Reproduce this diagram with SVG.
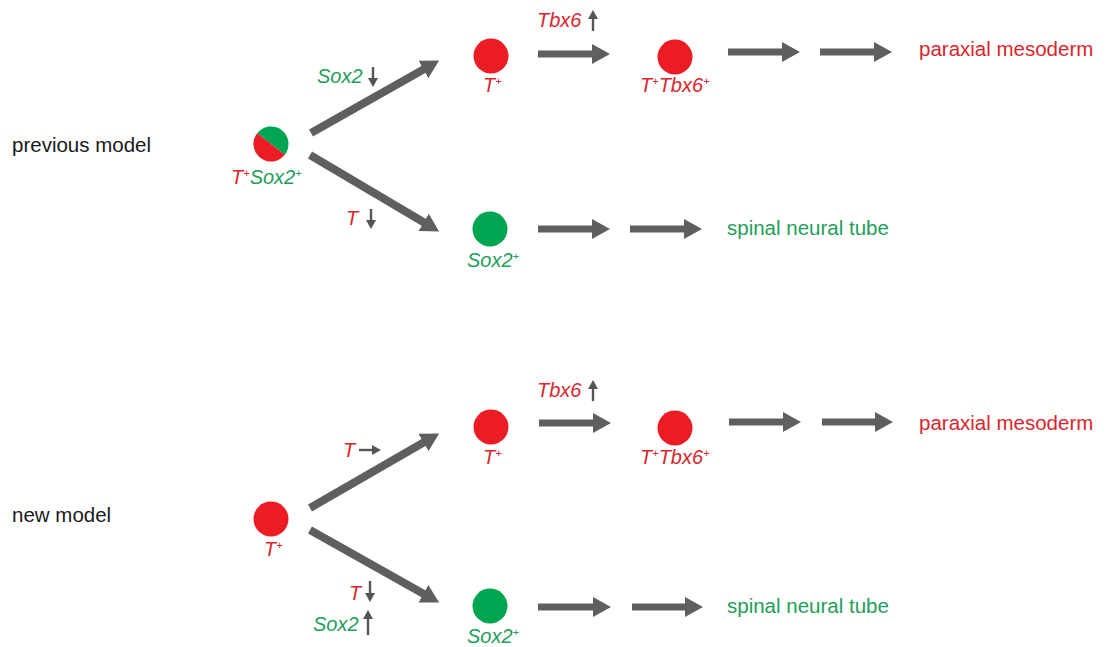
<svg xmlns="http://www.w3.org/2000/svg" width="1109" height="647" viewBox="0 0 1109 647">
<style>
text{font-family:"Liberation Sans",Arial,sans-serif;font-size:20.5px}
.lab{font-style:italic;font-size:20px}
.r{fill:#d9262c}.g{fill:#1f9e5a}.k{fill:#1a1a1a}
.sup{font-size:11px}
.big{stroke:#5f5f5f;stroke-width:7;fill:none;marker-end:url(#ah)}
.dg{stroke:#5f5f5f;stroke-width:8;fill:none;marker-end:url(#ah)}
.thin{stroke:#555;stroke-width:2.4;fill:none;marker-end:url(#th)}
.cr{fill:#ec1c24}.cg{fill:#00a551}
</style>
<defs>
<marker id="ah" markerUnits="userSpaceOnUse" viewBox="0 0 18 20" markerWidth="18" markerHeight="20" refX="1" refY="10" orient="auto"><path d="M0,0 L18,10 L0,20 Z" fill="#5f5f5f"/></marker>
<marker id="th" markerUnits="userSpaceOnUse" viewBox="0 0 9 10" markerWidth="9" markerHeight="10" refX="1" refY="5" orient="auto"><path d="M0,0 L9,5 L0,10 Z" fill="#555"/></marker>
</defs>
<rect width="1109" height="647" fill="#fff"/>

<g id="titles">
<text class="k" x="12" y="152">previous model</text>
<text class="k" x="12" y="522">new model</text>
</g>

<g id="connectors">
<line class="dg" x1="311" y1="133" x2="424.3" y2="68.9"/>
<line class="dg" x1="310" y1="155" x2="424.5" y2="222.8"/>
<line class="big" x1="538" y1="54" x2="593" y2="54"/>
<line class="big" x1="728" y1="52" x2="783" y2="52"/>
<line class="big" x1="820" y1="52" x2="875" y2="52"/>
<line class="big" x1="538" y1="229" x2="593" y2="229"/>
<line class="big" x1="630" y1="229" x2="685" y2="229"/>
<line class="dg" x1="310" y1="508" x2="424.4" y2="442"/>
<line class="dg" x1="310" y1="530" x2="424.3" y2="594.2"/>
<line class="big" x1="539" y1="423" x2="594" y2="423"/>
<line class="big" x1="729" y1="422" x2="784" y2="422"/>
<line class="big" x1="822" y1="422" x2="876" y2="422"/>
<line class="big" x1="538" y1="607" x2="594" y2="607"/>
<line class="big" x1="632" y1="607" x2="686" y2="607"/>
</g>

<g id="edge-labels">
<text class="lab g" x="317" y="83">Sox2</text>
<line class="thin" x1="373" y1="67" x2="373" y2="79"/>
<text class="lab r" x="346" y="225">T</text>
<line class="thin" x1="371" y1="209" x2="371" y2="221"/>
<text class="lab r" x="537" y="27">Tbx6</text>
<line class="thin" x1="593" y1="31" x2="593" y2="18"/>
<text class="lab r" x="343" y="457">T</text>
<line class="thin" x1="359" y1="450" x2="373" y2="450"/>
<text class="lab r" x="537" y="397">Tbx6</text>
<line class="thin" x1="593" y1="401" x2="593" y2="388"/>
<text class="lab r" x="349" y="600">T</text>
<line class="thin" x1="370" y1="581" x2="370" y2="594"/>
<text class="lab g" x="313" y="631">Sox2</text>
<line class="thin" x1="368" y1="635" x2="368" y2="618"/>
</g>

<g id="node-prev-progenitor">
<path class="cg" d="M257.2,133.2 A17.5,17.5 0 0 1 284.8,154.8 Z"/>
<path class="cr" d="M284.8,154.8 A17.5,17.5 0 0 1 257.2,133.2 Z"/>
<text class="lab" x="231" y="184"><tspan class="r">T</tspan><tspan class="r sup" dy="-7">+</tspan><tspan class="g" dy="7">Sox2</tspan><tspan class="g sup" dy="-7">+</tspan></text>
</g>

<g id="node-prev-T">
<circle class="cr" cx="491" cy="56" r="17.5"/>
<text class="lab r" x="483" y="92">T<tspan class="sup" dy="-7">+</tspan></text>
</g>

<g id="node-prev-TTbx6">
<circle class="cr" cx="675" cy="57" r="17.5"/>
<text class="lab r" x="640" y="92">T<tspan class="sup" dy="-7">+</tspan><tspan dy="7">Tbx6</tspan><tspan class="sup" dy="-7">+</tspan></text>
</g>

<g id="node-prev-paraxial">
<text class="r" x="919" y="56">paraxial mesoderm</text>
</g>

<g id="node-prev-Sox2">
<circle class="cg" cx="490" cy="229" r="17.5"/>
<text class="lab g" x="467" y="267">Sox2<tspan class="sup" dy="-7">+</tspan></text>
</g>

<g id="node-prev-spinal">
<text class="g" x="727" y="235">spinal neural tube</text>
</g>

<g id="node-new-progenitor">
<circle class="cr" cx="271" cy="519" r="17.5"/>
<text class="lab r" x="264" y="556">T<tspan class="sup" dy="-7">+</tspan></text>
</g>

<g id="node-new-T">
<circle class="cr" cx="491" cy="427" r="17.5"/>
<text class="lab r" x="483" y="464">T<tspan class="sup" dy="-7">+</tspan></text>
</g>

<g id="node-new-TTbx6">
<circle class="cr" cx="675" cy="428" r="17.5"/>
<text class="lab r" x="640" y="464">T<tspan class="sup" dy="-7">+</tspan><tspan dy="7">Tbx6</tspan><tspan class="sup" dy="-7">+</tspan></text>
</g>

<g id="node-new-paraxial">
<text class="r" x="919" y="430">paraxial mesoderm</text>
</g>

<g id="node-new-Sox2">
<circle class="cg" cx="490" cy="606" r="17.5"/>
<text class="lab g" x="467" y="643">Sox2<tspan class="sup" dy="-7">+</tspan></text>
</g>

<g id="node-new-spinal">
<text class="g" x="727" y="613">spinal neural tube</text>
</g>
</svg>
